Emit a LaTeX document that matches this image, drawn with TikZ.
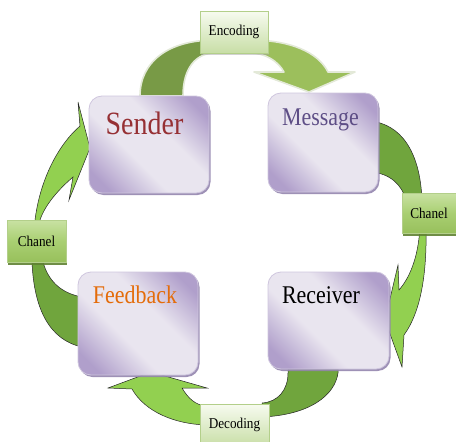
\documentclass[tikz,border=0pt]{standalone}
\usepackage{fontspec}
\setmainfont{Liberation Serif}
\usepackage{graphicx}
\usetikzlibrary{shadows}

% stage boxes
\definecolor{pdark}{HTML}{B09FCB}
\definecolor{plight}{HTML}{E9E5EF}
\definecolor{pshadow}{HTML}{9385AE}
\definecolor{pedge}{HTML}{CFC6DE}
% cycle arrows
\definecolor{olivegreen}{HTML}{789A46}
\definecolor{softgreen}{HTML}{9CBF5C}
\definecolor{leafdark}{HTML}{70A53D}
\definecolor{leaflight}{HTML}{92D050}
\definecolor{glow}{HTML}{E3E9D8}
% titles
\definecolor{senderred}{HTML}{963034}
\definecolor{msgpurple}{HTML}{5E4E86}
\definecolor{fborange}{HTML}{E46C0A}
% small tags
\definecolor{tagtop}{HTML}{F7FBF0}
\definecolor{tagbot}{HTML}{C8DEA6}
\definecolor{tagedge}{HTML}{B3CF8A}
\definecolor{chtop}{HTML}{C9E2A3}
\definecolor{chmid}{HTML}{A9CF72}
\definecolor{chbot}{HTML}{98C05C}
\definecolor{chshadow}{HTML}{5F8132}

% diagonal sheen: dark corners, wide pale band through the middle
\pgfdeclareverticalshading{stagesheen}{100bp}{
  color(0bp)=(pdark); color(22bp)=(pdark); color(41bp)=(plight);
  color(59bp)=(plight); color(78bp)=(pdark); color(100bp)=(pdark)}

\tikzset{
  stage/.style={rounded corners=13pt, draw=pedge, line width=0.8pt,
    shading=stagesheen, shading angle=-45,
    drop shadow={shadow xshift=1.5pt, shadow yshift=-2pt, fill=pshadow, opacity=0.9},
    inner sep=0pt},
  title/.style={anchor=base, inner sep=0pt},
  tag/.style={draw=tagedge, line width=0.6pt, top color=tagtop, bottom color=tagbot,
    inner sep=0pt, drop shadow={shadow xshift=1pt, shadow yshift=-1.5pt, fill=black!35, opacity=0.5},
    font=\fontsize{15}{15}\selectfont},
  chantag/.style={draw=tagedge, line width=0.6pt, top color=chtop, bottom color=chbot, middle color=chmid,
    inner sep=0pt, drop shadow={shadow xshift=0.8pt, shadow yshift=-2.5pt, fill=chshadow, opacity=0.9},
    font=\fontsize{15}{15}\selectfont},
  darkpart/.style={fill=leafdark, draw=black!85, line width=0.5pt, line join=round},
  headpart/.style={fill=leaflight, draw=black!85, line width=0.5pt, line join=miter},
  toppart/.style={draw=glow, line width=1.6pt, line join=round},
}

\begin{document}
\begin{tikzpicture}[x=1pt, y=-1pt]
\useasboundingbox (0,0) rectangle (456,442);

% ---- cycle arrows (drawn beneath the boxes) ----
% Sender -> Encoding -> Message
\fill[toppart, fill=olivegreen] (140,96) .. controls (140,62) and (168,40) .. (215,40)
  -- (215,53) .. controls (196,53) and (183,68) .. (183,96) -- cycle;
\fill[toppart, fill=softgreen] (250,40) .. controls (290,40) and (318,52) .. (328,72)
  -- (355,72) -- (309,92) -- (254,72) -- (284,72)
  .. controls (278,61) and (265,53) .. (250,53) -- cycle;

% Message -> Chanel -> Receiver
\path[darkpart] (370,121) .. controls (400,124) and (420,150) .. (422,200)
  -- (406,200) .. controls (402,185) and (390,173) .. (370,172) -- cycle;
\path[headpart] (426,225) .. controls (427,270) and (422,310) .. (404,335)
  -- (402,367) -- (385,320) -- (398,265) -- (399,290)
  .. controls (412,275) and (419,252) .. (420,225) -- cycle;

% Receiver -> Decoding -> Feedback
\path[darkpart] (288,366) -- (338,366) -- (338,373)
  .. controls (335,395) and (310,415) .. (262,417)
  -- (262,403) .. controls (278,402) and (288,390) .. (288,373) -- cycle;
\path[headpart] (151,372) -- (207,388) -- (182,388)
  .. controls (188,398) and (195,405) .. (206,406)
  -- (206,425) .. controls (175,424) and (145,412) .. (132,389)
  -- (108,388) -- cycle;

% Feedback -> Chanel -> Sender
\path[darkpart] (32,255) -- (43,255) -- (43,262)
  .. controls (48,280) and (60,293) .. (82,297)
  -- (82,347) .. controls (50,340) and (34,310) .. (32,262) -- cycle;
\path[headpart] (35,227) -- (35,220) .. controls (40,180) and (58,145) .. (80,126)
  -- (78,102) -- (90,148) -- (69,200) -- (73,177)
  .. controls (58,190) and (45,205) .. (40,220) -- (40,227) -- cycle;

% ---- stage boxes ----
\node[stage, minimum width=120pt, minimum height=97pt]  (sender)   at (149,144.5) {};
\node[stage, minimum width=110pt, minimum height=99pt]  (message)  at (323,142.5) {};
\node[stage, minimum width=120pt, minimum height=103pt] (feedback) at (138,323.5) {};
\node[stage, minimum width=121pt, minimum height=97pt]  (receiver) at (328.5,320.5) {};

\node[title, text=senderred, font=\fontsize{32.5}{33}\selectfont] (sendertitle) at (144.5,134) {\scalebox{0.86}[1]{Sender}};
\node[title, text=msgpurple, font=\fontsize{25.5}{26}\selectfont] (messagetitle) at (320.5,125) {\scalebox{0.86}[1]{Message}};
\node[title, text=fborange, font=\fontsize{25.5}{26}\selectfont] (feedbacktitle) at (135,303) {\scalebox{0.86}[1]{Feedback}};
\node[title, text=black, font=\fontsize{25.5}{26}\selectfont] (receivertitle) at (321,303) {\scalebox{0.86}[1]{Receiver}};

% ---- step tags ----
\node[tag, minimum width=68pt, minimum height=42pt] (encoding) at (234,32) {\scalebox{0.88}[1]{Encoding}};
\node[tag, minimum width=69pt, minimum height=42pt] (decoding) at (234.5,425) {\scalebox{0.88}[1]{Decoding}};
\node[chantag, minimum width=54pt, minimum height=40pt] (chanelright) at (429,213) {\scalebox{0.88}[1]{Chanel}};
\node[chantag, minimum width=59pt, minimum height=42pt] (chanelleft) at (36.5,241) {\scalebox{0.88}[1]{Chanel}};
\end{tikzpicture}
\end{document}
